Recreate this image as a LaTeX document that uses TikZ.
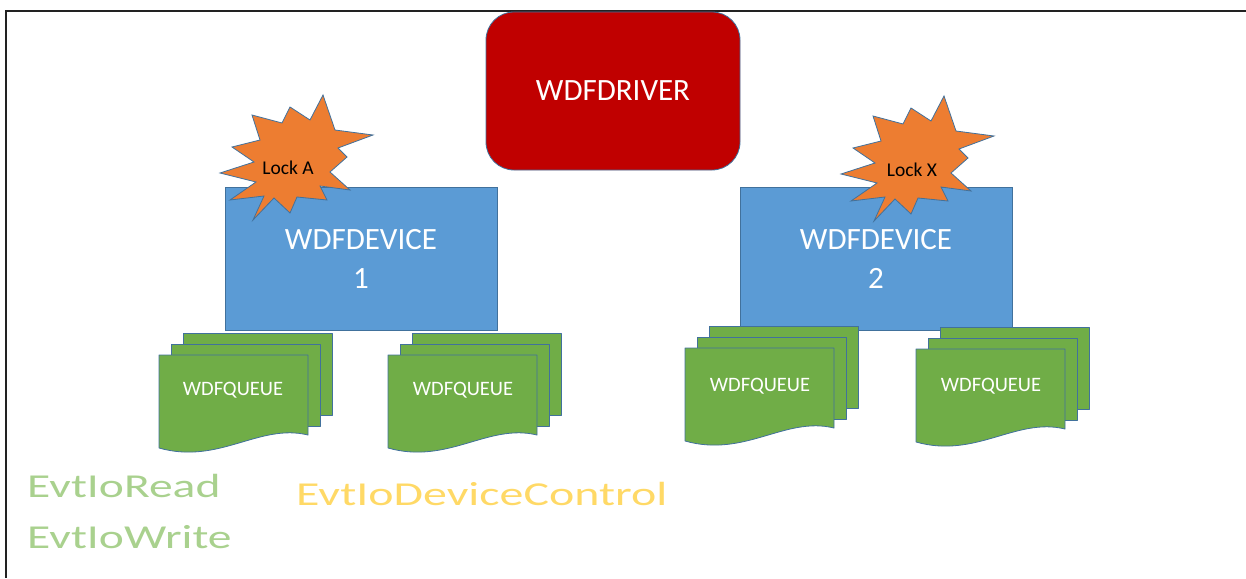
\documentclass[tikz,border=0pt]{standalone}
\usepackage{fontspec}
\setmainfont{Carlito}
\usetikzlibrary{calc}
\definecolor{drvred}{HTML}{C00000}
\definecolor{devblue}{HTML}{5B9BD5}
\definecolor{edgeblue}{HTML}{41719C}
\definecolor{qgreen}{HTML}{70AD47}
\definecolor{lockorange}{HTML}{ED7D31}
\definecolor{cbgreen}{HTML}{A9D18E}
\definecolor{cbyellow}{HTML}{FFD966}
\definecolor{framegray}{HTML}{222222}

\begin{document}
\begin{tikzpicture}[x=1pt,y=-1pt,
  driverbox/.style={draw=edgeblue, line width=0.8pt, fill=drvred, rounded corners=28pt,
    minimum width=254pt, minimum height=158pt, text=white,
    font=\fontsize{31}{39}\selectfont},
  devicebox/.style={draw=edgeblue, line width=0.8pt, fill=devblue,
    minimum width=272pt, minimum height=143pt, text=white, align=center,
    font=\fontsize{31}{39}\selectfont},
  page/.style={draw=edgeblue, line width=0.8pt, fill=qgreen, line join=round},
  star/.style={draw=edgeblue, line width=0.8pt, fill=lockorange, line join=miter},
  qtext/.style={text=white, font=\fontsize{20.5}{24}\selectfont, inner sep=0pt},
  locktext/.style={text=black, font=\fontsize{19.5}{22}\selectfont, inner sep=0pt},
  cbtext/.style={font=\fontsize{33.5}{40}\selectfont, anchor=base west, inner sep=0pt},
  queue/.pic={
    \draw[page] (24,-22) rectangle ++(149,82);
    \draw[page] (12,-11) rectangle ++(149,82);
    \draw[page] (0,0) -- (149,0) -- (149,80)
      .. controls (100,68) and (60,110) .. (0,93) -- cycle;
  },
  lockstar/.pic={
    \draw[star] (27,-65) -- (14,-40) -- (-6,-53) -- (-14,-37) -- (-44,-45)
      -- (-36,-20) -- (-64,-13) -- (-42,2) -- (-76,13) -- (-40,22)
      -- (-66,40) -- (-32,36) -- (-43,60) -- (-22,38) -- (-6,53)
      -- (1,37) -- (31,40) -- (24,26) -- (54,30) -- (34,12)
      -- (51,-3) -- (42,-12) -- (77,-25) -- (39,-30) -- cycle;
  }
]
\useasboundingbox (0,0) rectangle (1246,578);

% page frame (top and left rules)
\draw[framegray, line width=2.6pt] (1246,11) -- (6,11) -- (6,578);

% driver
\node[driverbox] (driver) at (613,91) {WDFDRIVER};

% devices
\node[devicebox] (dev1) at (361,258.5) {WDFDEVICE\\1};
\node[devicebox] (dev2) at (876,258.5) {WDFDEVICE\\2};

% locks
\pic at (296,160) {lockstar};
\node[locktext] (lockA) at (288,168) {Lock A};
\pic at (917,161) {lockstar};
\node[locktext] (lockX) at (912,170) {Lock X};

% queues
\pic at (159,355) {queue};
\node[qtext] (q1) at (233,390) {WDFQUEUE};
\pic at (388,355) {queue};
\node[qtext] (q2) at (463,390) {WDFQUEUE};
\pic at (685,348) {queue};
\node[qtext] (q3) at (760,386) {WDFQUEUE};
\pic at (916,349) {queue};
\node[qtext] (q4) at (991,386) {WDFQUEUE};

% callback names
\node[cbtext, text=cbgreen] (cbread) at (27,497) {\scalebox{1.42}[1]{EvtIoRead}};
\node[cbtext, text=cbgreen] (cbwrite) at (27,548) {\scalebox{1.42}[1]{EvtIoWrite}};
\node[cbtext, text=cbyellow] (cbctl) at (296,505) {\scalebox{1.43}[1]{EvtIoDeviceControl}};
\end{tikzpicture}
\end{document}
